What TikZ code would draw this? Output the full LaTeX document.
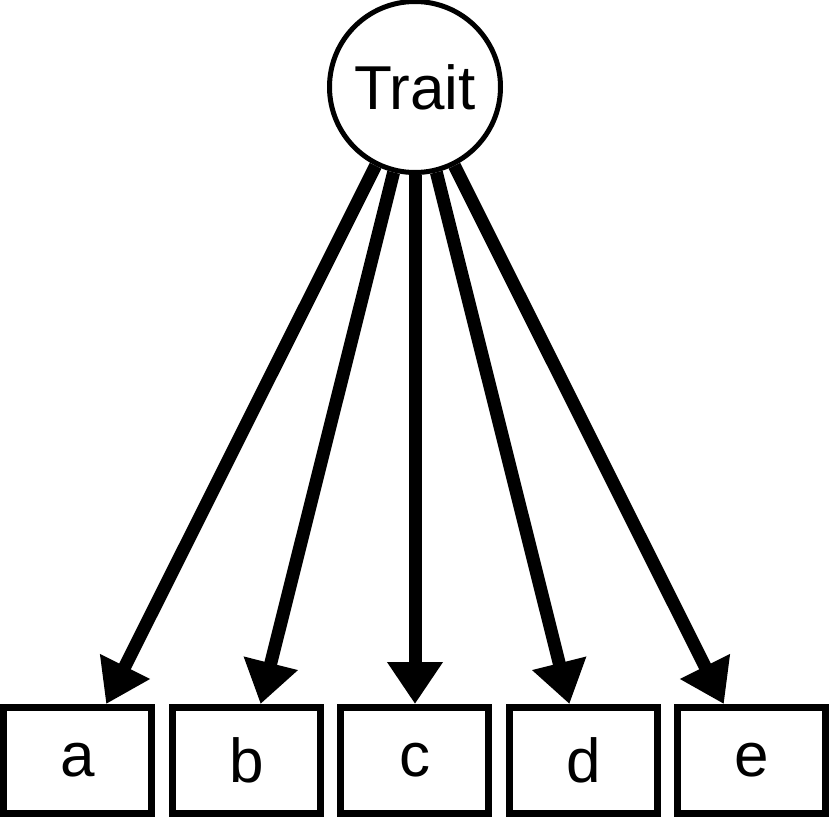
\documentclass[tikz,border=0pt]{standalone}
\usepackage{fontspec}
\setmainfont{Liberation Sans}
\usepackage{tikz}
\usetikzlibrary{arrows.meta,positioning,calc,matrix}

\begin{document}
\begin{tikzpicture}[x=1pt,y=1pt,latent/.style={circle,draw=black,line width=5pt,minimum size=171pt,inner sep=0pt,font=\fontsize{62pt}{70pt}\selectfont}, item/.style={rectangle,draw=black,line width=7pt,minimum width=148pt,minimum height=106pt,inner sep=0pt,font=\fontsize{62pt}{70pt}\selectfont}, link/.style={line width=13pt,-{Triangle[length=42pt,width=53pt]}}]
\useasboundingbox (0,0) rectangle (831,-817);

\node(trait)[latent] at (415,-87) {Trait};

\matrix[column sep=13.5pt] at (415,-760.5)
{
\node(a)[item]{a};  \pgfmatrixnextcell \node(b)[item]{b};  \pgfmatrixnextcell \node(c)[item]{c};  \pgfmatrixnextcell \node(d)[item]{d};  \pgfmatrixnextcell \node(e)[item]{e};\\
};

\draw [link] (trait) to (a);
\draw [link] (trait) to (b);
\draw [link] (trait) to (c);
\draw [link] (trait) to (d);
\draw [link] (trait) to (e);
\end{tikzpicture}
\end{document}
